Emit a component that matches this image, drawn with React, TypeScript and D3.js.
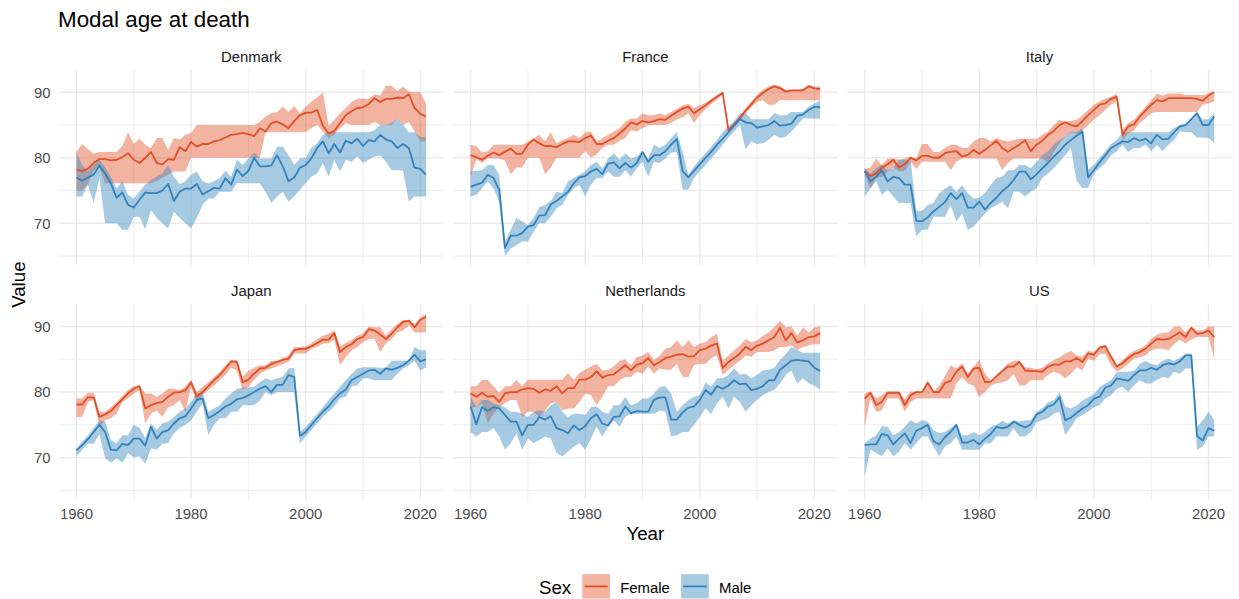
import React from 'react';
import * as d3 from 'd3';

// categories and ticks
const years = d3.range(1960, 2022);
const countries = ['Denmark', 'France', 'Italy', 'Japan', 'Netherlands', 'US'];
const sexes = ['Female', 'Male'];
const xTicks = [1960, 1980, 2000, 2020];
const xMinorTicks = [1970, 1990, 2010];
const yTicks = [70, 80, 90];
const yMinorTicks = [65, 75, 85];

// Denmark
const denmarkFemale = [78.2, 78.0, 78.3, 79.2, 79.8, 79.8, 79.6, 79.7, 80.1, 80.7, 79.7, 79.2, 80.0, 80.9, 79.2, 79.0, 79.8, 79.7, 81.6, 81.0, 82.4, 81.7, 82.1, 82.1, 82.5, 82.7, 83.1, 83.5, 83.6, 83.8, 83.6, 83.3, 84.5, 84.0, 85.3, 85.5, 85.1, 84.5, 85.6, 86.5, 86.9, 86.9, 87.3, 84.9, 83.7, 84.1, 85.3, 86.5, 87.1, 87.6, 87.7, 88.2, 89.1, 88.5, 89.0, 89.0, 89.2, 89.1, 89.7, 87.6, 86.7, 86.3];
const denmarkFemaleLo = [75.0, 75.0, 76.0, 78.0, 78.5, 76.1, 76.1, 76.1, 76.1, 76.1, 76.1, 76.1, 76.1, 76.1, 76.4, 77.0, 77.4, 77.9, 77.9, 77.9, 80.0, 80.0, 80.0, 80.0, 80.0, 80.0, 80.0, 80.0, 80.0, 80.0, 80.0, 80.0, 80.0, 83.9, 83.9, 83.9, 83.9, 83.9, 83.9, 83.9, 83.9, 84.5, 85.0, 84.0, 83.0, 83.5, 84.5, 85.3, 85.0, 85.0, 85.0, 85.0, 85.5, 85.0, 85.0, 85.0, 86.0, 85.0, 85.5, 84.0, 82.5, 82.5];
const denmarkFemaleHi = [80.9, 82.1, 81.3, 80.6, 80.9, 80.9, 80.9, 80.9, 81.8, 83.9, 82.1, 82.9, 82.0, 81.5, 83.0, 83.0, 81.2, 83.0, 82.8, 83.5, 83.8, 85.0, 85.0, 85.0, 85.0, 85.0, 85.0, 85.0, 85.0, 85.0, 85.0, 85.0, 85.5, 86.3, 86.8, 87.0, 87.8, 87.0, 87.9, 86.8, 87.8, 88.6, 89.2, 90.0, 84.9, 85.8, 86.8, 87.6, 88.5, 89.0, 89.0, 89.0, 89.7, 89.5, 91.0, 91.0, 90.2, 90.9, 90.1, 90.0, 90.0, 88.3];
const denmarkMale = [77.0, 76.5, 77.0, 77.4, 78.8, 77.6, 76.1, 73.9, 74.7, 72.8, 72.4, 73.6, 74.7, 74.6, 74.6, 75.0, 76.0, 73.4, 74.8, 75.3, 75.3, 76.0, 74.4, 74.9, 75.4, 75.3, 76.9, 75.9, 78.2, 77.2, 78.0, 80.0, 78.7, 78.7, 78.8, 80.4, 78.7, 76.4, 77.0, 78.5, 78.9, 79.9, 81.5, 82.5, 80.7, 82.1, 80.8, 82.6, 82.2, 82.9, 81.8, 82.7, 82.5, 83.5, 82.8, 82.5, 81.5, 82.1, 81.5, 78.5, 78.3, 77.4];
const denmarkMaleLo = [74.1, 74.1, 75.9, 73.1, 76.9, 70.0, 70.0, 70.0, 69.0, 69.0, 71.0, 71.0, 69.1, 72.0, 70.8, 70.0, 69.2, 71.8, 70.8, 70.0, 69.2, 70.8, 72.8, 73.8, 73.8, 74.8, 74.8, 74.8, 76.1, 76.1, 76.1, 76.1, 76.1, 74.8, 73.1, 74.1, 74.8, 73.3, 74.1, 75.1, 76.1, 77.1, 77.6, 79.2, 77.1, 79.7, 77.9, 79.7, 79.4, 80.2, 79.2, 79.7, 80.2, 80.4, 79.4, 78.1, 78.1, 78.0, 73.3, 74.1, 74.1, 74.1];
const denmarkMaleHi = [80.8, 78.9, 77.9, 78.9, 79.7, 78.5, 77.1, 75.3, 76.4, 74.3, 73.8, 74.8, 75.9, 76.6, 77.1, 77.6, 78.9, 77.1, 76.0, 76.4, 77.4, 77.9, 76.4, 76.1, 76.4, 76.9, 78.0, 77.1, 79.7, 78.9, 79.9, 80.8, 79.9, 79.9, 79.9, 81.7, 81.7, 80.4, 78.9, 79.9, 80.0, 81.5, 82.2, 83.5, 83.9, 83.9, 83.9, 83.9, 83.9, 83.9, 83.9, 83.9, 84.2, 85.0, 85.0, 85.3, 86.0, 85.0, 83.9, 83.9, 83.2, 83.1];

// France
const franceFemale = [80.4, 80.1, 79.7, 80.3, 80.8, 80.4, 80.9, 81.4, 80.6, 80.6, 82.0, 82.8, 82.2, 81.8, 81.8, 81.6, 82.1, 82.5, 82.5, 82.4, 83.0, 83.4, 82.1, 82.1, 82.6, 83.0, 83.7, 84.5, 85.4, 85.1, 85.6, 85.4, 85.6, 85.9, 85.8, 86.4, 87.0, 87.5, 87.8, 86.8, 87.4, 88.0, 88.7, 89.3, 89.9, 84.2, 85.1, 86.1, 87.2, 88.2, 89.2, 89.9, 90.5, 90.9, 90.6, 90.1, 90.3, 90.3, 90.3, 90.9, 90.6, 90.5];
const franceFemaleLo = [77.0, 79.8, 79.2, 79.9, 79.9, 79.9, 79.6, 77.5, 78.5, 78.5, 80.0, 80.0, 80.0, 77.5, 78.5, 80.0, 80.0, 80.0, 80.0, 80.0, 81.0, 80.0, 80.5, 81.5, 82.0, 82.0, 82.6, 83.0, 84.2, 84.0, 84.5, 85.0, 85.0, 85.0, 85.0, 85.3, 85.9, 86.2, 86.8, 85.3, 86.5, 87.4, 88.2, 88.9, 89.6, 83.8, 84.7, 85.7, 86.8, 87.7, 88.5, 88.8, 88.1, 88.1, 88.8, 88.8, 88.8, 88.8, 88.8, 88.8, 88.8, 88.8];
const franceFemaleHi = [82.0, 81.8, 80.8, 81.0, 82.0, 82.0, 82.0, 82.0, 82.0, 82.0, 82.5, 82.9, 83.5, 82.5, 83.9, 82.2, 82.7, 83.0, 83.5, 83.0, 83.9, 84.0, 82.5, 83.0, 83.5, 84.0, 84.5, 85.5, 86.0, 86.0, 86.8, 86.5, 86.5, 86.8, 86.5, 87.0, 87.5, 88.0, 88.2, 87.6, 88.0, 88.4, 89.0, 89.6, 90.1, 84.5, 85.4, 86.4, 87.6, 88.6, 89.6, 90.4, 90.9, 91.1, 91.0, 90.4, 90.4, 90.4, 90.5, 91.2, 90.9, 90.9];
const franceMale = [75.6, 75.9, 76.2, 77.4, 76.9, 75.1, 66.2, 68.1, 68.1, 68.5, 69.5, 69.7, 71.2, 71.2, 72.9, 73.4, 74.1, 74.8, 76.1, 77.0, 77.2, 77.9, 78.3, 77.5, 79.1, 79.3, 78.4, 79.2, 78.5, 79.2, 80.9, 79.4, 80.4, 80.4, 81.0, 82.0, 82.9, 78.0, 77.0, 78.0, 79.0, 80.0, 80.9, 82.0, 82.9, 83.9, 84.9, 85.9, 85.4, 85.3, 84.6, 84.8, 85.0, 85.6, 84.9, 85.0, 85.2, 86.4, 86.6, 87.3, 87.8, 87.7];
const franceMaleLo = [74.1, 74.3, 75.3, 76.4, 75.3, 73.3, 65.0, 66.1, 66.7, 67.2, 67.2, 68.7, 70.0, 70.0, 71.0, 72.3, 72.8, 74.3, 75.3, 75.9, 74.1, 75.9, 76.9, 76.9, 77.9, 77.1, 77.1, 78.1, 77.1, 78.4, 79.4, 77.1, 79.4, 79.2, 79.9, 80.8, 80.9, 75.1, 75.1, 76.9, 77.9, 78.9, 79.9, 80.9, 82.0, 83.1, 84.0, 85.0, 81.3, 82.5, 82.1, 82.2, 82.7, 83.5, 83.0, 83.2, 84.0, 85.0, 86.0, 86.0, 86.0, 86.0];
const franceMaleHi = [77.9, 78.0, 78.1, 78.9, 78.9, 77.4, 67.2, 69.0, 70.8, 70.3, 69.7, 70.8, 72.5, 72.8, 73.4, 74.8, 74.6, 76.4, 76.9, 77.4, 77.9, 78.9, 79.4, 78.4, 79.9, 80.7, 79.7, 80.7, 79.9, 80.2, 81.0, 79.9, 82.0, 81.5, 82.0, 83.0, 83.9, 80.9, 77.4, 78.7, 79.7, 80.7, 81.7, 82.7, 83.9, 84.8, 85.6, 86.8, 86.8, 85.9, 85.9, 85.9, 85.9, 86.8, 86.5, 86.5, 87.0, 87.0, 87.0, 87.8, 88.3, 88.8];

// Italy
const italyFemale = [77.9, 77.2, 77.6, 78.5, 79.0, 79.7, 78.5, 79.0, 80.0, 79.6, 80.3, 80.3, 80.0, 80.0, 80.7, 80.9, 81.0, 80.2, 80.4, 81.2, 80.6, 81.2, 81.9, 82.6, 81.5, 80.9, 81.5, 82.0, 82.7, 81.0, 82.0, 82.6, 83.5, 84.1, 85.0, 85.4, 85.0, 84.8, 85.6, 86.5, 87.3, 88.1, 88.3, 89.0, 89.3, 83.5, 84.8, 85.1, 86.3, 87.2, 88.1, 88.8, 88.6, 89.1, 89.1, 89.1, 89.1, 89.1, 89.0, 88.7, 89.5, 90.0];
const italyFemaleLo = [77.5, 75.3, 76.9, 77.1, 77.9, 78.5, 77.9, 78.0, 79.4, 78.3, 79.4, 79.4, 79.4, 79.4, 79.4, 78.1, 79.4, 79.9, 79.9, 79.9, 79.9, 79.9, 79.9, 79.9, 78.1, 79.2, 79.9, 79.9, 79.9, 79.9, 79.9, 79.9, 79.2, 80.9, 82.2, 83.2, 83.9, 83.7, 84.2, 85.0, 85.8, 86.5, 87.3, 88.1, 88.6, 82.7, 83.7, 84.2, 85.3, 86.0, 86.8, 87.0, 87.0, 87.0, 87.0, 87.0, 87.0, 87.0, 87.0, 88.1, 88.3, 88.6];
const italyFemaleHi = [78.3, 78.5, 79.9, 78.9, 79.9, 79.9, 79.7, 79.9, 80.2, 79.9, 82.1, 82.1, 80.9, 80.9, 81.5, 82.0, 82.0, 81.5, 81.5, 82.5, 83.0, 83.0, 82.5, 83.0, 82.7, 82.5, 82.7, 82.9, 82.9, 82.9, 82.9, 83.5, 84.0, 85.0, 85.8, 85.5, 85.6, 85.8, 86.5, 87.3, 88.1, 88.6, 89.0, 89.3, 89.8, 84.2, 85.3, 85.8, 86.8, 87.8, 88.8, 89.8, 89.5, 89.8, 89.8, 89.8, 89.6, 89.6, 89.6, 89.6, 89.8, 90.1];
const italyMale = [78.0, 76.4, 77.1, 78.1, 76.4, 77.1, 76.9, 75.9, 75.9, 70.4, 70.3, 70.9, 71.8, 72.5, 73.2, 74.6, 73.7, 74.6, 72.4, 72.4, 73.3, 72.1, 73.1, 73.9, 74.9, 75.6, 76.6, 77.9, 77.9, 76.7, 77.5, 78.4, 79.2, 80.2, 81.0, 82.0, 82.7, 83.4, 84.0, 77.0, 78.1, 79.3, 80.4, 81.5, 82.0, 82.5, 82.4, 83.0, 82.6, 82.9, 82.2, 83.5, 82.8, 82.9, 83.9, 84.8, 85.0, 85.9, 86.8, 85.0, 85.0, 86.3];
const italyMaleLo = [74.1, 75.3, 76.4, 74.3, 75.1, 74.1, 73.1, 73.1, 73.1, 68.0, 69.0, 69.0, 71.0, 71.0, 71.0, 72.8, 70.3, 71.5, 69.0, 69.5, 70.5, 71.5, 72.3, 72.8, 73.3, 72.3, 74.8, 74.8, 74.1, 74.8, 75.3, 76.9, 77.6, 78.4, 79.4, 80.4, 81.5, 76.4, 75.4, 75.4, 77.6, 78.4, 79.2, 80.4, 81.0, 82.0, 80.9, 81.5, 81.5, 82.0, 81.0, 82.0, 81.0, 82.0, 82.7, 84.0, 83.9, 83.9, 83.1, 83.1, 83.0, 82.2];
const italyMaleHi = [78.4, 77.6, 78.4, 78.9, 78.1, 78.4, 79.7, 79.7, 79.7, 71.9, 71.9, 72.8, 73.1, 74.6, 75.3, 75.8, 74.8, 75.8, 74.6, 73.8, 73.9, 74.6, 75.9, 76.9, 77.1, 78.1, 78.1, 78.9, 78.9, 78.4, 79.4, 80.4, 81.0, 82.0, 82.7, 83.2, 84.0, 83.9, 84.5, 78.2, 78.9, 80.0, 81.0, 82.1, 82.7, 83.9, 83.9, 83.9, 83.9, 83.9, 83.9, 83.9, 83.9, 83.9, 84.5, 85.0, 85.1, 85.9, 86.8, 85.9, 85.9, 86.8];

// Japan
const japanFemale = [78.1, 78.1, 79.2, 79.2, 76.2, 76.6, 77.1, 78.0, 78.9, 79.8, 80.5, 80.9, 77.5, 78.0, 78.3, 78.5, 79.3, 79.9, 80.0, 80.3, 81.5, 79.3, 80.0, 80.9, 81.8, 82.6, 83.6, 84.7, 84.6, 81.5, 81.9, 82.8, 83.6, 83.7, 84.3, 84.6, 84.9, 85.1, 86.4, 86.6, 86.6, 87.0, 87.5, 88.0, 88.0, 89.0, 86.1, 86.9, 87.3, 88.1, 88.4, 89.6, 89.4, 88.8, 88.1, 88.9, 89.9, 90.7, 90.9, 89.9, 91.0, 91.5];
const japanFemaleLo = [76.2, 76.2, 78.5, 78.8, 74.7, 75.7, 76.0, 76.7, 78.5, 79.0, 79.8, 80.3, 75.2, 76.7, 77.2, 76.2, 77.7, 78.0, 78.8, 77.0, 80.8, 78.3, 79.5, 80.3, 81.0, 81.8, 82.6, 83.7, 83.3, 80.3, 80.8, 81.8, 82.8, 83.3, 83.6, 83.9, 84.3, 84.6, 85.9, 85.9, 85.9, 86.6, 86.9, 87.4, 87.4, 88.0, 84.1, 85.3, 86.4, 86.9, 87.6, 88.1, 88.1, 86.1, 87.4, 88.1, 89.1, 89.4, 90.2, 89.1, 89.1, 89.1];
const japanFemaleHi = [79.0, 79.0, 79.9, 79.9, 77.0, 77.0, 77.7, 78.5, 79.4, 80.3, 80.9, 81.0, 79.8, 79.8, 79.3, 79.8, 80.5, 80.5, 80.3, 80.8, 81.9, 80.0, 80.8, 81.5, 82.3, 83.1, 84.1, 84.9, 84.9, 82.3, 83.3, 83.7, 84.1, 84.1, 84.8, 84.8, 85.2, 85.6, 86.9, 86.9, 87.0, 87.4, 88.1, 88.6, 88.9, 89.4, 87.0, 87.5, 87.9, 88.6, 88.9, 90.0, 89.9, 89.9, 88.6, 89.6, 90.4, 91.0, 91.0, 90.4, 91.4, 91.9];
const japanMale = [71.1, 71.9, 72.8, 73.9, 75.0, 73.9, 71.2, 71.1, 72.1, 71.9, 72.9, 72.9, 71.8, 74.7, 72.9, 73.9, 74.2, 75.2, 76.0, 76.3, 77.5, 78.8, 79.0, 76.0, 76.5, 77.1, 77.8, 78.2, 78.9, 79.1, 79.5, 80.0, 80.5, 80.9, 80.0, 81.1, 81.1, 82.6, 82.3, 73.3, 73.9, 75.0, 76.0, 77.0, 77.8, 78.9, 79.8, 80.4, 81.8, 82.3, 82.8, 83.3, 83.4, 82.8, 83.6, 83.4, 83.7, 84.1, 84.8, 85.7, 84.7, 85.0];
const japanMaleLo = [70.2, 71.2, 72.1, 72.1, 73.6, 69.9, 69.2, 69.9, 69.2, 70.7, 70.0, 70.2, 69.1, 71.4, 71.2, 72.1, 72.2, 73.7, 74.5, 75.0, 75.7, 77.0, 78.3, 73.4, 75.0, 76.0, 76.0, 77.0, 77.0, 78.0, 78.0, 78.0, 78.7, 80.0, 79.5, 80.0, 80.0, 80.0, 80.0, 72.2, 73.2, 74.2, 75.2, 76.2, 77.0, 77.8, 79.0, 79.3, 80.9, 81.0, 82.1, 82.1, 81.8, 81.8, 81.8, 81.8, 82.8, 83.6, 84.1, 84.8, 83.3, 83.8];
const japanMaleHi = [71.4, 72.4, 73.4, 74.5, 75.7, 75.5, 72.7, 72.2, 73.4, 73.4, 75.0, 74.5, 73.0, 75.2, 74.2, 75.2, 75.5, 76.2, 77.0, 77.5, 78.5, 79.8, 80.0, 77.0, 77.5, 78.0, 79.0, 79.8, 80.5, 80.7, 80.7, 80.8, 81.5, 82.1, 81.8, 82.1, 82.3, 83.6, 83.7, 73.9, 74.7, 75.7, 76.7, 77.7, 78.8, 79.8, 80.8, 81.8, 82.8, 83.6, 83.8, 83.8, 83.8, 83.7, 83.7, 84.8, 84.8, 84.8, 84.8, 86.9, 86.4, 86.4];

// Netherlands
const netherlandsFemale = [79.8, 79.3, 79.9, 79.3, 79.4, 78.5, 79.8, 80.0, 80.0, 80.4, 80.6, 80.5, 79.9, 80.4, 80.2, 80.9, 79.8, 80.6, 80.6, 81.9, 81.9, 82.3, 83.2, 82.2, 82.6, 82.7, 83.4, 84.1, 83.3, 84.2, 84.4, 85.2, 84.1, 84.6, 85.2, 85.4, 85.7, 85.8, 85.4, 85.5, 86.4, 86.6, 87.1, 87.4, 83.7, 84.6, 85.2, 85.9, 86.9, 86.4, 87.1, 87.4, 87.9, 88.4, 89.8, 87.9, 89.0, 87.6, 87.9, 88.4, 88.5, 89.0];
const netherlandsFemaleLo = [77.7, 77.7, 78.3, 75.2, 76.7, 77.7, 78.3, 78.8, 78.8, 76.2, 77.0, 77.0, 76.2, 77.2, 78.3, 78.5, 77.2, 77.5, 77.5, 78.5, 79.8, 79.5, 78.0, 79.3, 80.9, 80.9, 81.8, 82.3, 82.3, 83.1, 82.8, 83.9, 82.8, 83.6, 83.4, 83.4, 84.3, 82.3, 82.3, 84.1, 84.3, 84.3, 85.2, 85.6, 82.6, 83.4, 84.1, 84.8, 85.6, 85.4, 86.1, 86.1, 86.1, 86.4, 86.9, 86.9, 87.1, 86.4, 86.9, 87.1, 87.3, 87.3];
const netherlandsFemaleHi = [80.9, 80.9, 81.9, 81.9, 80.9, 79.9, 80.9, 80.9, 81.9, 80.9, 81.9, 81.9, 81.9, 81.9, 81.9, 81.9, 81.9, 82.9, 81.9, 82.9, 83.4, 83.9, 84.3, 83.3, 83.4, 83.9, 84.8, 85.0, 84.1, 85.3, 85.6, 86.1, 84.9, 85.6, 86.6, 86.9, 87.9, 86.9, 87.9, 86.9, 87.4, 87.6, 88.4, 88.9, 84.8, 85.6, 86.4, 87.1, 88.1, 87.6, 87.9, 88.6, 89.1, 89.9, 90.9, 89.9, 90.0, 88.6, 89.9, 89.1, 89.9, 90.0];
const netherlandsMale = [77.8, 75.1, 77.7, 77.1, 77.7, 77.5, 76.5, 75.5, 75.5, 73.4, 75.0, 75.0, 76.2, 75.8, 76.3, 74.5, 74.2, 73.7, 74.9, 74.2, 74.8, 76.0, 76.6, 75.2, 74.9, 76.2, 76.3, 77.8, 76.8, 77.1, 77.0, 77.0, 78.8, 79.2, 79.2, 75.8, 75.8, 76.9, 77.6, 77.8, 78.8, 80.3, 79.6, 80.9, 80.5, 81.0, 81.8, 81.2, 81.3, 80.3, 80.5, 80.9, 81.8, 81.8, 83.4, 84.1, 84.8, 84.9, 84.8, 84.7, 83.7, 83.2];
const netherlandsMaleLo = [73.9, 73.2, 73.9, 73.9, 74.5, 73.2, 71.2, 72.2, 73.7, 71.2, 72.9, 72.2, 72.7, 73.2, 72.9, 70.7, 70.2, 70.9, 71.7, 72.2, 71.2, 72.9, 74.7, 73.2, 74.7, 75.7, 74.7, 76.2, 76.7, 76.7, 76.7, 76.7, 76.7, 77.2, 77.0, 73.2, 73.4, 73.9, 73.9, 75.0, 76.2, 77.5, 76.7, 78.3, 79.3, 77.5, 79.3, 78.5, 77.0, 78.0, 78.8, 79.5, 80.0, 80.3, 81.3, 82.6, 83.3, 81.3, 82.1, 81.3, 81.0, 80.3];
const netherlandsMaleHi = [79.3, 77.7, 78.8, 78.8, 78.2, 78.0, 77.7, 77.0, 77.0, 76.7, 76.2, 77.0, 77.2, 77.0, 78.0, 78.5, 77.0, 76.2, 76.7, 76.7, 76.5, 77.7, 77.8, 77.0, 76.7, 78.0, 78.0, 79.3, 78.0, 78.3, 79.0, 79.0, 79.8, 80.8, 80.9, 79.8, 77.0, 78.0, 78.8, 79.3, 79.5, 81.5, 80.8, 82.1, 82.1, 82.6, 83.6, 82.7, 82.8, 82.1, 82.6, 83.3, 83.4, 83.7, 84.9, 85.8, 86.9, 86.4, 86.0, 86.0, 86.0, 86.0];

// US
const usFemale = [79.0, 79.9, 78.0, 78.5, 79.9, 79.9, 79.9, 78.0, 79.5, 80.0, 80.0, 81.4, 80.0, 80.0, 81.4, 81.7, 83.1, 83.9, 82.3, 83.6, 83.7, 81.5, 81.6, 82.4, 83.2, 83.9, 83.9, 84.6, 83.3, 83.2, 83.2, 83.1, 83.9, 84.2, 84.2, 84.7, 84.7, 85.2, 84.6, 85.9, 85.7, 86.8, 87.0, 85.4, 83.9, 84.4, 85.2, 85.8, 86.1, 86.6, 87.4, 88.1, 88.0, 88.1, 88.6, 89.1, 88.4, 89.8, 88.9, 89.0, 89.4, 88.4];
const usFemaleLo = [74.7, 79.0, 77.0, 77.2, 79.0, 79.0, 79.0, 77.0, 78.5, 79.0, 79.0, 79.0, 79.0, 79.0, 79.0, 79.0, 81.3, 82.3, 81.3, 81.0, 79.3, 80.0, 81.0, 81.3, 81.5, 81.8, 82.8, 81.0, 81.0, 81.8, 81.8, 81.8, 82.6, 83.1, 82.8, 82.1, 82.8, 83.8, 83.3, 85.1, 84.8, 85.8, 85.8, 84.1, 83.1, 83.6, 84.3, 85.1, 85.3, 85.6, 86.4, 86.6, 86.6, 86.4, 87.3, 88.0, 87.4, 88.0, 88.4, 88.4, 88.4, 85.1];
const usFemaleHi = [79.8, 80.1, 79.0, 79.5, 80.1, 80.1, 80.1, 78.9, 80.1, 80.1, 80.1, 81.9, 80.1, 81.0, 82.4, 84.1, 83.6, 84.4, 82.8, 83.8, 85.0, 82.8, 81.8, 82.6, 83.4, 84.4, 84.8, 84.8, 83.8, 83.7, 83.5, 83.7, 84.4, 84.9, 85.3, 85.9, 86.3, 85.6, 85.4, 86.3, 86.1, 87.0, 87.2, 85.6, 84.1, 84.9, 85.7, 86.3, 86.6, 87.1, 88.1, 88.8, 89.0, 89.1, 90.0, 90.0, 89.1, 90.0, 89.4, 89.4, 90.0, 90.0];
const usMale = [71.9, 72.0, 72.0, 73.6, 73.4, 72.0, 72.9, 73.7, 72.2, 74.1, 74.5, 75.0, 72.5, 72.0, 73.1, 73.9, 75.0, 72.3, 72.3, 72.7, 72.0, 72.9, 73.6, 74.7, 74.5, 74.7, 75.5, 75.0, 74.6, 75.1, 76.6, 77.0, 77.8, 78.1, 79.2, 75.7, 76.1, 76.8, 77.5, 78.0, 79.0, 79.3, 80.7, 81.0, 82.1, 81.9, 81.7, 82.6, 83.3, 83.3, 83.7, 83.4, 84.1, 84.4, 84.2, 84.7, 85.6, 85.6, 73.3, 72.6, 74.5, 74.1];
const usMaleLo = [67.1, 71.2, 70.7, 70.2, 71.4, 70.2, 70.9, 72.2, 71.2, 72.2, 73.2, 73.2, 71.7, 70.2, 71.7, 72.2, 73.2, 71.2, 71.2, 71.2, 71.2, 72.2, 72.2, 73.2, 73.2, 73.2, 74.5, 73.2, 73.2, 73.9, 75.4, 75.7, 76.0, 76.7, 77.0, 73.4, 74.7, 76.0, 76.5, 77.0, 77.7, 78.0, 79.0, 79.5, 80.5, 80.8, 80.0, 81.0, 81.8, 81.3, 81.3, 81.9, 82.3, 82.1, 83.1, 82.8, 83.6, 83.6, 71.2, 71.7, 73.2, 73.2];
const usMaleHi = [72.2, 72.9, 73.4, 74.8, 74.7, 73.4, 73.9, 74.7, 75.7, 75.2, 75.7, 75.5, 74.2, 73.7, 73.9, 74.5, 75.2, 73.4, 73.4, 73.9, 73.4, 73.9, 74.7, 75.0, 75.6, 75.2, 75.7, 75.5, 75.7, 75.7, 77.0, 77.5, 78.5, 78.7, 80.0, 77.8, 77.5, 78.0, 78.7, 79.2, 79.7, 80.8, 81.3, 81.8, 83.1, 83.1, 83.1, 83.3, 84.3, 84.8, 84.3, 84.1, 84.8, 85.1, 84.8, 85.2, 85.9, 85.9, 74.7, 75.7, 77.0, 75.7];

type Band = { mid: number[]; lo: number[]; hi: number[] };

const table: Record<string, Record<string, Band>> = {
  Denmark: {
    Female: { mid: denmarkFemale, lo: denmarkFemaleLo, hi: denmarkFemaleHi },
    Male: { mid: denmarkMale, lo: denmarkMaleLo, hi: denmarkMaleHi },
  },
  France: {
    Female: { mid: franceFemale, lo: franceFemaleLo, hi: franceFemaleHi },
    Male: { mid: franceMale, lo: franceMaleLo, hi: franceMaleHi },
  },
  Italy: {
    Female: { mid: italyFemale, lo: italyFemaleLo, hi: italyFemaleHi },
    Male: { mid: italyMale, lo: italyMaleLo, hi: italyMaleHi },
  },
  Japan: {
    Female: { mid: japanFemale, lo: japanFemaleLo, hi: japanFemaleHi },
    Male: { mid: japanMale, lo: japanMaleLo, hi: japanMaleHi },
  },
  Netherlands: {
    Female: { mid: netherlandsFemale, lo: netherlandsFemaleLo, hi: netherlandsFemaleHi },
    Male: { mid: netherlandsMale, lo: netherlandsMaleLo, hi: netherlandsMaleHi },
  },
  US: {
    Female: { mid: usFemale, lo: usFemaleLo, hi: usFemaleHi },
    Male: { mid: usMale, lo: usMaleLo, hi: usMaleHi },
  },
};

const colors: Record<string, string> = { Female: '#E34F26', Male: '#3283BD' };
const ribbonOpacity = 0.43;
const FONT = '"Liberation Sans", Arial, Helvetica, sans-serif';

// layout (ggplot facet_wrap, 3 columns)
const W = 1239;
const H = 599;
const panelW = 384.5;
const panelH = 195;
const colStep = 394.1;
const rowStep = 234.3;
const left0 = 59;
const top0 = 70;
const grid = '#EBEBEB';

export default function App() {
  const first = years[0];
  const last = years[years.length - 1];
  const pad = (last - first) * 0.05;
  const x = d3.scaleLinear().domain([first - pad, last + pad]).range([0, panelW]);
  const y = d3.scaleLinear().domain([63.63, 93.4]).range([panelH, 0]);

  const area = (b: Band) =>
    d3.area<number>()
      .x((d) => x(d))
      .y0((_d, i) => y(b.lo[i]))
      .y1((_d, i) => y(b.hi[i]))(years) || '';
  const line = (b: Band) =>
    d3.line<number>()
      .x((d) => x(d))
      .y((_d, i) => y(b.mid[i]))(years) || '';

  return (
    <svg
      width={W}
      height={H}
      style={{ position: 'absolute', left: 0, top: 0, background: '#fff' }}
      fontFamily={FONT}
    >
      <rect width={W} height={H} fill="#fff" />
      <text x={58} y={26.7} fontSize={22.4} fill="#000">Modal age at death</text>

      {countries.map((c, k) => {
        const col = k % 3;
        const row = Math.floor(k / 3);
        const px = left0 + col * colStep;
        const py = top0 + row * rowStep;
        return (
          <g key={c} transform={`translate(${px},${py})`}>
            {yMinorTicks.map((t) => (
              <line key={'ym' + t} x1={0} x2={panelW} y1={y(t)} y2={y(t)} stroke={grid} strokeWidth={0.9} />
            ))}
            {xMinorTicks.map((t) => (
              <line key={'xm' + t} x1={x(t)} x2={x(t)} y1={0} y2={panelH} stroke={grid} strokeWidth={0.9} />
            ))}
            {yTicks.map((t) => (
              <line key={'y' + t} x1={0} x2={panelW} y1={y(t)} y2={y(t)} stroke={grid} strokeWidth={1.4} />
            ))}
            {xTicks.map((t) => (
              <line key={'x' + t} x1={x(t)} x2={x(t)} y1={0} y2={panelH} stroke={grid} strokeWidth={1.4} />
            ))}

            {sexes.map((s) => (
              <path key={'r' + s} d={area(table[c][s])} fill={colors[s]} fillOpacity={ribbonOpacity} stroke="none" />
            ))}
            {sexes.map((s) => (
              <path key={'l' + s} d={line(table[c][s])} fill="none" stroke={colors[s]} strokeWidth={1.8} strokeLinejoin="round" />
            ))}

            <text x={panelW / 2} y={-8.5} textAnchor="middle" fontSize={14.9} fill="#1A1A1A">{c}</text>

            {col === 0 &&
              yTicks.map((t) => (
                <text key={'yl' + t} x={-8.4} y={y(t)} dy="0.36em" textAnchor="end" fontSize={14.9} fill="#4D4D4D">
                  {t}
                </text>
              ))}
            {row === 1 &&
              xTicks.map((t) => (
                <text key={'xl' + t} x={x(t)} y={panelH + 20} textAnchor="middle" fontSize={14.9} fill="#4D4D4D">
                  {t}
                </text>
              ))}
          </g>
        );
      })}

      <text x={(left0 + left0 + 2 * colStep + panelW) / 2} y={540} textAnchor="middle" fontSize={18.7} fill="#000">Year</text>
      <text
        transform={`translate(25,${top0 + (rowStep + panelH) / 2}) rotate(-90)`}
        textAnchor="middle"
        fontSize={18.7}
        fill="#000"
      >
        Value
      </text>

      <g>
        <text x={539} y={594} fontSize={18.7} fill="#000">Sex</text>
        {sexes.map((s, i) => {
          const kx = 582.3 + i * 98.8;
          return (
            <g key={'k' + s}>
              <rect x={kx} y={574.2} width={27.7} height={24.3} fill={colors[s]} fillOpacity={ribbonOpacity} />
              <line x1={kx + 2.2} x2={kx + 25.5} y1={586.4} y2={586.4} stroke={colors[s]} strokeWidth={1.8} />
              <text x={kx + 37.9} y={592.6} fontSize={14.9} fill="#000">{s}</text>
            </g>
          );
        })}
      </g>
    </svg>
  );
}
